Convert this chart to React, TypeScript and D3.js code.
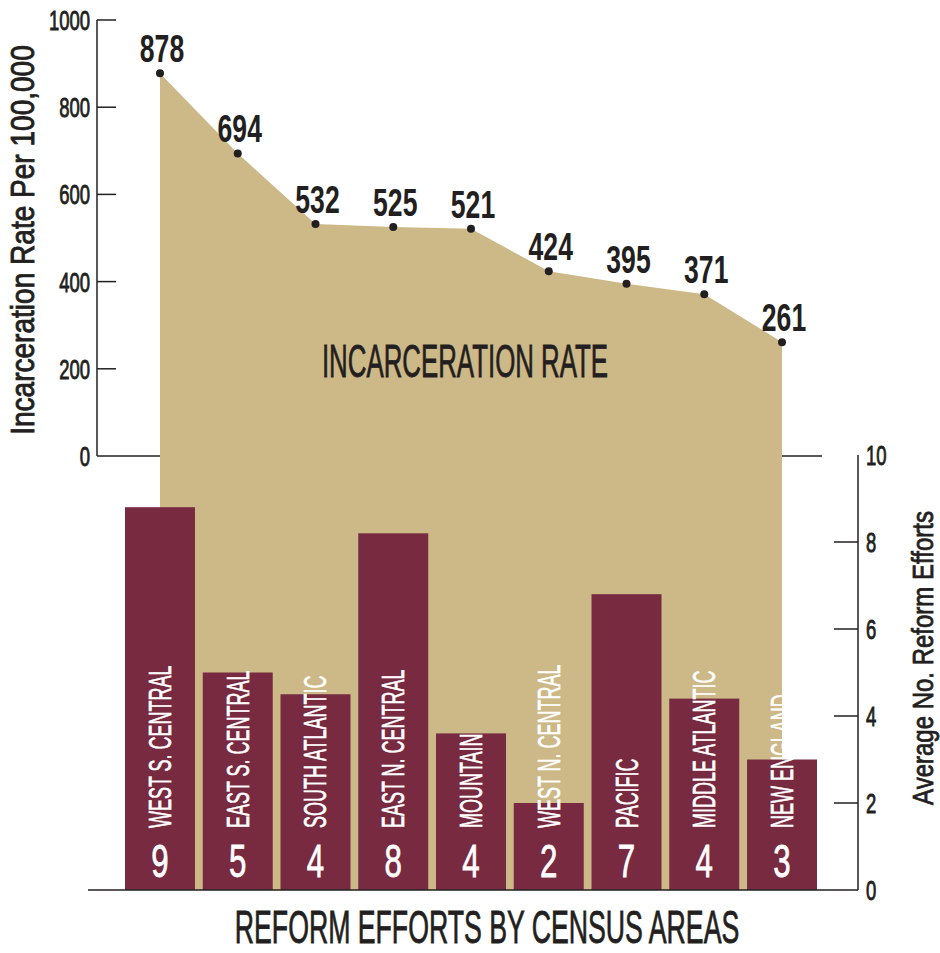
import React from 'react';
import * as d3 from 'd3';

// census areas, left to right
const areas = [
  'WEST S. CENTRAL', 'EAST S. CENTRAL', 'SOUTH ATLANTIC', 'EAST N. CENTRAL',
  'MOUNTAIN', 'WEST N. CENTRAL', 'PACIFIC', 'MIDDLE ATLANTIC', 'NEW ENGLAND',
];
// incarceration rate per 100,000
const rates = [878, 694, 532, 525, 521, 424, 395, 371, 261];
// average no. of reform efforts (bar heights) and the rounded labels
const reforms = [8.8, 5.0, 4.5, 8.2, 3.6, 2.0, 6.8, 4.4, 3.0];
const reformLabels = ['9', '5', '4', '8', '4', '2', '7', '4', '3'];

const rateTicks = [0, 200, 400, 600, 800, 1000];
const reformTicks = [0, 2, 4, 6, 8, 10];

const TAN = '#cdb887';
const MAROON = '#772a40';
const INK = '#231f20';
const FONT = '"Liberation Sans", Arial, sans-serif';

// condensed text: Liberation Sans squeezed horizontally, a thin stroke for weight
const T = ({ x, y, rot = 0, sx = 0.6, size, anchor = 'middle', fill = INK, weight = 'normal', sw = 0.7, children }: any) => (
  <text
    transform={`translate(${x},${y}) rotate(${rot}) scale(${sx},1)`}
    textAnchor={anchor}
    fontSize={size}
    fontFamily={FONT}
    fontWeight={weight}
    fill={fill}
    stroke={fill}
    strokeWidth={sw}
  >
    {children}
  </text>
);

export default function App() {
  const width = 940;
  const height = 953;

  const x = d3.scaleBand<string>()
    .domain(areas)
    .range([125, 817])
    .paddingInner(0.1)
    .paddingOuter(0);

  const yRate = d3.scaleLinear().domain([0, 1000]).range([456, 20]);
  const yReform = d3.scaleLinear().domain([0, 10]).range([890, 455]);

  const cx = (i: number) => (x(areas[i]) as number) + x.bandwidth() / 2;

  // area runs from the line down to the bar baseline
  const area = d3.area<number>()
    .x((d, i) => cx(i))
    .y0(yReform(0))
    .y1(d => yRate(d))
    .curve(d3.curveLinear);

  const axisLeftX = 97;
  const axisRightX = 858;

  return (
    <svg width={width} height={height} style={{ position: 'absolute', left: 0, top: 0, background: '#fff' }}>
      {/* top zero line */}
      <line x1={axisLeftX} x2={822} y1={yRate(0)} y2={yRate(0)} stroke={INK} strokeWidth={1.5} />

      <path d={area(rates) || ''} fill={TAN} />

      {/* bars */}
      {reforms.map((v, i) => (
        <rect key={areas[i]}
          x={x(areas[i])}
          y={yReform(v)}
          width={x.bandwidth()}
          height={yReform(0) - yReform(v)}
          fill={MAROON} />
      ))}

      {/* bar labels */}
      {areas.map((a, i) => (
        <g key={'l' + a}>
          <T x={cx(i) + 11} y={828} rot={-90} sx={0.58} size={31} anchor="start" fill="#fff" sw={0.6}>{a}</T>
          <T x={cx(i)} y={877} sx={0.68} size={46} fill="#fff" sw={0.8}>{reformLabels[i]}</T>
        </g>
      ))}

      {/* rate points + values */}
      {rates.map((r, i) => (
        <g key={'p' + i}>
          <circle cx={cx(i)} cy={yRate(r)} r={4} fill={INK} />
          <T x={cx(i) + 2} y={yRate(r) - 11} sx={0.7} size={38} weight="bold" sw={0}>{r}</T>
        </g>
      ))}

      <T x={465} y={377} sx={0.55} size={47} sw={0.8}>INCARCERATION RATE</T>

      {/* left axis */}
      <line x1={axisLeftX} x2={axisLeftX} y1={yRate(1000)} y2={yRate(0)} stroke={INK} strokeWidth={1.5} />
      {rateTicks.map(t => (
        <g key={'rt' + t}>
          {t > 0 && <line x1={axisLeftX} x2={116} y1={yRate(t)} y2={yRate(t)} stroke={INK} strokeWidth={1.5} />}
          <T x={90} y={yRate(t) + 10} sx={0.66} size={28} anchor="end" sw={0.9}>{t}</T>
        </g>
      ))}
      <T x={34} y={240} rot={-90} sx={0.85} size={33} sw={0.9}>Incarceration Rate Per 100,000</T>

      {/* right axis */}
      <line x1={axisRightX} x2={axisRightX} y1={yReform(10)} y2={yReform(0)} stroke={INK} strokeWidth={1.5} />
      {reformTicks.map(t => (
        <g key={'ft' + t}>
          {t > 0 && t < 10 && <line x1={834} x2={axisRightX} y1={yReform(t)} y2={yReform(t)} stroke={INK} strokeWidth={1.5} />}
          <T x={866} y={yReform(t) + 10} sx={0.66} size={28} anchor="start" sw={0.9}>{t}</T>
        </g>
      ))}
      <T x={933} y={658} rot={-90} sx={0.8} size={30} sw={0.8}>Average No. Reform Efforts</T>

      {/* bottom baseline */}
      <line x1={88} x2={axisRightX} y1={yReform(0)} y2={yReform(0)} stroke={INK} strokeWidth={1.5} />

      <T x={487} y={943} sx={0.58} size={46} sw={0.8}>REFORM EFFORTS BY CENSUS AREAS</T>
    </svg>
  );
}
